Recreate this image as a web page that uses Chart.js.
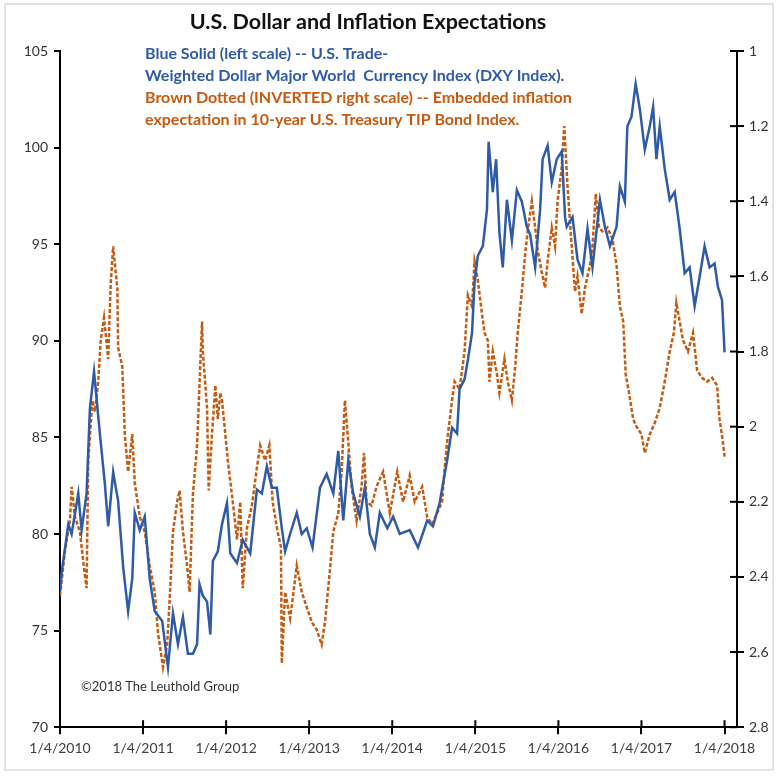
<!DOCTYPE html>
<html>
<head>
<meta charset="utf-8">
<script src="https://cdn.jsdelivr.net/npm/chart.js@4.4.1/dist/chart.umd.min.js"></script>
<style>
  html, body { margin: 0; padding: 0; background: #fff; }
  #wrap { position: relative; width: 780px; height: 777px; }
  #frame { position: absolute; left: 4px; top: 3px; right: 6px; bottom: 6px; border: 2px solid #e3e3e3; pointer-events: none; }
</style>
</head>
<body>
<div id="wrap">
  <canvas id="chart" width="780" height="777"></canvas>
  <div id="frame"></div>
</div>
<script>
// years after 1/4/2010
const dxyT = [0.00, 0.02, 0.10, 0.14, 0.22, 0.26, 0.32, 0.36, 0.41, 0.48, 0.54, 0.58, 0.64, 0.70, 0.76, 0.82, 0.87, 0.90, 0.96,
  1.02, 1.08, 1.14, 1.23, 1.30, 1.36, 1.42, 1.48, 1.54, 1.60, 1.65, 1.68, 1.72, 1.77, 1.81, 1.84, 1.90, 1.95,
  2.01, 2.05, 2.13, 2.20, 2.29, 2.37, 2.43, 2.49, 2.55, 2.61, 2.67, 2.71, 2.77, 2.85, 2.91, 2.97,
  3.04, 3.13, 3.21, 3.29, 3.35, 3.41, 3.47, 3.53, 3.61, 3.67, 3.73, 3.79, 3.85, 3.94,
  4.01, 4.09, 4.21, 4.31, 4.42, 4.49, 4.57, 4.66, 4.72, 4.78, 4.81, 4.87, 4.91, 4.96, 4.99,
  5.03, 5.09, 5.14, 5.16, 5.21, 5.25, 5.29, 5.33, 5.38, 5.44, 5.50, 5.56, 5.62, 5.66, 5.72, 5.78, 5.81, 5.87, 5.92, 5.98,
  6.04, 6.08, 6.10, 6.17, 6.23, 6.29, 6.35, 6.41, 6.50, 6.56, 6.62, 6.70, 6.74, 6.80, 6.83, 6.88, 6.93, 6.98,
  7.04, 7.10, 7.14, 7.18, 7.22, 7.28, 7.34, 7.40, 7.46, 7.52, 7.58, 7.64, 7.70, 7.76, 7.82, 7.88, 7.92, 7.97, 8.00];
const dxyValues = [77.0, 78.0, 80.5, 80.0, 82.1, 80.2, 82.1, 86.5, 88.4, 85.2, 82.6, 80.4, 83.2, 81.7, 78.3, 76.0, 77.7, 81.1, 80.2,
  80.9, 77.7, 76.0, 75.5, 73.1, 75.9, 74.3, 75.7, 73.8, 73.8, 74.3, 77.4, 76.8, 76.5, 74.8, 78.6, 79.1, 80.5,
  81.6, 79.0, 78.5, 79.7, 79.0, 82.3, 82.1, 83.5, 82.4, 82.4, 80.3, 79.1, 80.0, 81.1, 80.0, 80.3,
  79.3, 82.4, 83.1, 82.1, 84.3, 80.7, 83.8, 82.1, 80.9, 82.4, 80.0, 79.3, 81.1, 80.3,
  80.9, 80.0, 80.2, 79.3, 80.7, 80.4, 81.6, 83.8, 85.5, 85.2, 87.5, 88.0, 89.0, 90.4, 93.0,
  94.4, 94.9, 96.8, 100.3, 97.7, 99.4, 95.6, 93.8, 97.3, 95.2, 97.8, 97.2, 95.9, 95.5, 93.8, 96.8, 99.4, 100.1, 98.2, 99.4,
  99.8, 96.4, 95.9, 96.4, 94.2, 93.5, 95.8, 93.8, 97.3, 95.9, 94.9, 95.9, 98.0, 97.2, 101.1, 101.6, 103.3, 102.0,
  99.9, 101.1, 102.1, 99.4, 101.1, 98.9, 97.3, 97.7, 95.8, 93.5, 93.8, 91.8, 93.3, 94.9, 93.8, 94.0, 92.8, 92.1, 89.4];

const tipT = [0.00, 0.06, 0.12, 0.14, 0.18, 0.24, 0.28, 0.32, 0.34, 0.39, 0.42, 0.46, 0.49, 0.53, 0.58, 0.61, 0.64, 0.69, 0.70,
  0.75, 0.78, 0.82, 0.87, 0.90, 0.96, 1.02, 1.08, 1.14, 1.18, 1.24, 1.29, 1.32, 1.36, 1.41, 1.44, 1.48, 1.53, 1.56,
  1.60, 1.65, 1.71, 1.72, 1.77, 1.79, 1.83, 1.87, 1.90, 1.93, 1.95, 1.99, 2.02, 2.08, 2.13, 2.17, 2.20, 2.25, 2.31,
  2.37, 2.41, 2.47, 2.52, 2.56, 2.62, 2.66, 2.67, 2.71, 2.77, 2.80, 2.85, 2.91, 2.97, 3.03, 3.09, 3.15, 3.19, 3.25,
  3.29, 3.35, 3.39, 3.43, 3.47, 3.51, 3.57, 3.63, 3.66, 3.69, 3.75, 3.81, 3.89, 3.97, 4.06, 4.13, 4.21, 4.27, 4.36,
  4.42, 4.48, 4.54, 4.60, 4.63, 4.67, 4.72, 4.75, 4.81, 4.87, 4.91, 4.96, 4.99, 5.03, 5.08, 5.11, 5.15, 5.17, 5.21,
  5.26, 5.29, 5.35, 5.39, 5.44, 5.48, 5.51, 5.56, 5.60, 5.63, 5.68, 5.72, 5.75, 5.80, 5.84, 5.87, 5.92, 5.96, 5.99,
  6.04, 6.07, 6.11, 6.16, 6.20, 6.23, 6.28, 6.32, 6.38, 6.41, 6.45, 6.49, 6.53, 6.59, 6.65, 6.70, 6.74, 6.78, 6.81,
  6.85, 6.90, 6.94, 7.00, 7.04, 7.10, 7.16, 7.22, 7.28, 7.34, 7.39, 7.42, 7.46, 7.50, 7.56, 7.62, 7.67, 7.73, 7.79,
  7.85, 7.91, 7.94, 7.98, 8.00];
const tipValues = [2.45, 2.33, 2.25, 2.16, 2.24, 2.28, 2.36, 2.43, 2.09, 1.93, 1.96, 1.88, 1.77, 1.71, 1.82, 1.62, 1.52, 1.63, 1.79,
  1.84, 2.02, 2.12, 2.02, 2.15, 2.24, 2.28, 2.37, 2.44, 2.55, 2.64, 2.58, 2.46, 2.28, 2.20, 2.17, 2.28, 2.37, 2.44,
  2.18, 2.05, 1.72, 1.80, 1.95, 2.17, 2.02, 1.89, 1.98, 1.91, 1.93, 2.02, 2.09, 2.20, 2.30, 2.20, 2.43, 2.27, 2.21,
  2.11, 2.05, 2.09, 2.05, 2.20, 2.28, 2.32, 2.63, 2.44, 2.51, 2.46, 2.37, 2.44, 2.48, 2.52, 2.54, 2.58, 2.52, 2.38,
  2.28, 2.23, 2.12, 1.93, 2.04, 2.16, 2.25, 2.16, 2.07, 2.20, 2.21, 2.16, 2.12, 2.23, 2.12, 2.20, 2.13, 2.20, 2.16,
  2.24, 2.26, 2.23, 2.20, 2.11, 2.02, 1.93, 1.88, 1.90, 1.80, 1.65, 1.68, 1.56, 1.61, 1.70, 1.75, 1.77, 1.88, 1.80,
  1.86, 1.91, 1.82, 1.88, 1.93, 1.84, 1.75, 1.64, 1.54, 1.48, 1.40, 1.47, 1.53, 1.59, 1.63, 1.56, 1.47, 1.52, 1.40,
  1.31, 1.20, 1.36, 1.52, 1.64, 1.60, 1.70, 1.63, 1.57, 1.52, 1.38, 1.47, 1.48, 1.47, 1.50, 1.57, 1.68, 1.72, 1.86,
  1.91, 1.98, 2.00, 2.02, 2.07, 2.02, 1.99, 1.95, 1.88, 1.80, 1.75, 1.67, 1.72, 1.77, 1.80, 1.75, 1.85, 1.87, 1.88,
  1.87, 1.89, 1.98, 2.04, 2.08];

const xTickYears = [2010, 2011, 2012, 2013, 2014, 2015, 2016, 2017, 2018];
const leftTicks = [70, 75, 80, 85, 90, 95, 100, 105];
const rightTicks = [1, 1.2, 1.4, 1.6, 1.8, 2, 2.2, 2.4, 2.6, 2.8];

const C = {
  blue: '#2f5aa6',
  orange: '#c55a11',
  axis: '#000',
  text: '#333',
};
const FONT = "Lato, 'Open Sans', sans-serif";

// inner half of the crossing tick marks (right axis and x axis)
const crossTicks = {
  id: 'crossTicks',
  afterDraw(chart) {
    const { ctx, chartArea, scales } = chart;
    ctx.save();
    ctx.strokeStyle = C.axis;
    ctx.lineWidth = 2;
    scales.x.ticks.forEach(t => {
      const px = scales.x.getPixelForValue(t.value);
      ctx.beginPath();
      ctx.moveTo(px, chartArea.bottom);
      ctx.lineTo(px, chartArea.bottom - 7);
      ctx.stroke();
    });
    scales.y2.ticks.forEach(t => {
      const py = scales.y2.getPixelForValue(t.value);
      ctx.beginPath();
      ctx.moveTo(chartArea.right, py);
      ctx.lineTo(chartArea.right - 7, py);
      ctx.stroke();
    });
    ctx.restore();
  },
};

// title and notes
const notes = {
  id: 'notes',
  afterDraw(chart) {
    const { ctx } = chart;
    ctx.save();
    ctx.textBaseline = 'middle';
    ctx.textAlign = 'center';
    ctx.font = "bold 21.5px " + FONT;
    ctx.fillStyle = '#111';
    ctx.fillText('U.S. Dollar and Inflation Expectations', 368, 22);
    ctx.textAlign = 'left';
    ctx.font = "bold 16px " + FONT;
    ctx.fillStyle = C.blue;
    ctx.fillText('Blue Solid (left scale) -- U.S. Trade-', 145, 54);
    ctx.fillText('Weighted Dollar Major World  Currency Index (DXY Index).', 145, 76);
    ctx.fillStyle = C.orange;
    ctx.fillText('Brown Dotted (INVERTED right scale) -- Embedded inflation', 145, 98);
    ctx.fillText('expectation in 10-year U.S. Treasury TIP Bond Index.', 145, 120);
    ctx.font = "13px " + FONT;
    ctx.fillStyle = '#333';
    ctx.fillText('\u00a92018 The Leuthold Group', 81, 687);
    ctx.restore();
  },
};

new Chart(document.getElementById('chart'), {
  type: 'line',
  data: {
    datasets: [{
      label: 'DXY Index',
      data: dxyT.map((t, i) => ({ x: t, y: dxyValues[i] })),
      borderColor: C.blue,
      borderWidth: 2.5,
      pointRadius: 0,
      tension: 0,
      yAxisID: 'y',
    }, {
      label: 'TIP inflation expectation',
      data: tipT.map((t, i) => ({ x: t, y: tipValues[i] })),
      borderColor: C.orange,
      borderWidth: 2.5,
      borderDash: [4, 2],
      pointRadius: 0,
      tension: 0,
      yAxisID: 'y2',
    }],
  },
  options: {
    responsive: false,
    animation: false,
    layout: { padding: { left: 0, right: 0, top: 51, bottom: 14 } },
    plugins: {
      legend: { display: false },
      tooltip: { enabled: false },
    },
    scales: {
      x: {
        type: 'linear',
        min: 0,
        max: 8.15,
        afterBuildTicks: s => { s.ticks = xTickYears.map(y => ({ value: y - 2010 })); },
        ticks: {
          autoSkip: false,
          maxRotation: 0,
          color: '#404040',
          font: { size: 14, family: FONT },
          padding: 6,
          callback: v => '1/4/' + (2010 + v),
        },
        grid: { drawOnChartArea: false, color: C.axis, lineWidth: 2, tickLength: 7 },
        border: { color: C.axis, width: 2 },
      },
      y: {
        position: 'left',
        min: 70,
        max: 105,
        afterBuildTicks: s => { s.ticks = leftTicks.map(v => ({ value: v })); },
        afterFit: s => { s.width = 60; },
        ticks: { color: C.text, font: { size: 14, family: FONT }, padding: 6 },
        grid: { drawOnChartArea: false, color: C.axis, lineWidth: 2, tickLength: 6 },
        border: { color: C.axis, width: 2 },
      },
      y2: {
        position: 'right',
        min: 1,
        max: 2.8,
        reverse: true,
        afterBuildTicks: s => { s.ticks = rightTicks.map(v => ({ value: v })); },
        afterFit: s => { s.width = 43; },
        ticks: { color: C.text, font: { size: 14, family: FONT }, padding: 5, callback: v => String(v) },
        grid: { drawOnChartArea: false, color: C.axis, lineWidth: 2, tickLength: 7 },
        border: { color: C.axis, width: 2 },
      },
    },
  },
  plugins: [crossTicks, notes],
});
</script>
</body>
</html>
